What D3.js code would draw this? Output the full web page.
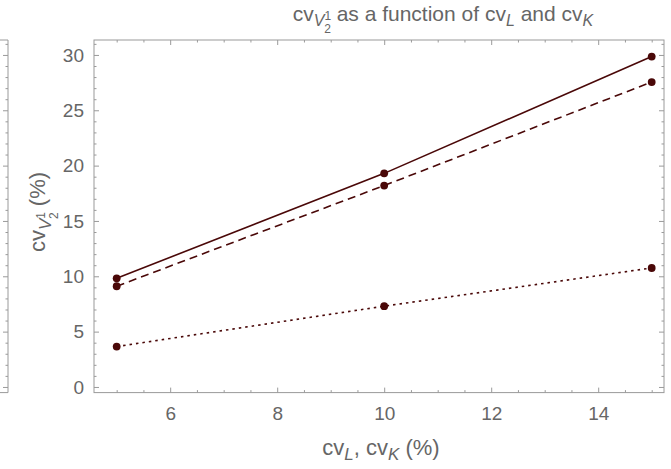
<!DOCTYPE html>
<html>
<head>
<meta charset="utf-8">
<script src="https://cdn.jsdelivr.net/npm/d3@7"></script>
<style>
  body { margin: 0; background: #fff; }
  text { font-family: "Liberation Sans", Arial, sans-serif; fill: #666; }
</style>
</head>
<body>
<svg id="chart" width="671" height="469"></svg>
<script>
// data
var cvLK = [5, 10, 15];
var solidVals = [9.82, 19.3, 29.85];
var dashedVals = [9.1, 18.2, 27.55];
var dottedVals = [3.65, 7.3, 10.75];
var xMajor = [6, 8, 10, 12, 14];
var yMajor = [0, 5, 10, 15, 20, 25, 30];

var plotLeft = 94, plotRight = 664, plotTop = 40, plotBottom = 392.6;
var lineColor = '#4a0808';
var frameColor = '#9a9a9a';

var svg = d3.select('#chart');

var x = d3.scaleLinear().domain([4.576, 15.23]).range([plotLeft, plotRight]);
var y = d3.scaleLinear().domain([-0.51, 31.35]).range([plotBottom, plotTop]);

var xMinor = d3.range(5, 15.01, 0.5).filter(function(d){ return xMajor.indexOf(d) < 0; });
var yMinor = d3.range(0, 31.01, 1).filter(function(d){ return yMajor.indexOf(d) < 0; });

function styleAxis(g){
    g.select('.domain').remove();
    g.selectAll('line').attr('stroke', frameColor).attr('stroke-width', 1);
    g.selectAll('text').attr('fill', '#666').style('font-size', '19px')
     .style('font-family', '"Liberation Sans", Arial, sans-serif');
}

// major ticks (with or without labels) and minor ticks along one side
function frameSide(axisFn, pos, major, minor, labels, pad){
    svg.append('g').attr('transform', pos)
       .call(axisFn.tickValues(major).tickSizeInner(-5).tickSizeOuter(0)
                   .tickPadding(pad || 3).tickFormat(labels ? d3.format('d') : ''))
       .call(styleAxis);
    svg.append('g').attr('transform', pos)
       .call(axisFn.tickValues(minor).tickSizeInner(-2.5).tickSizeOuter(0).tickFormat(''))
       .call(styleAxis);
}

frameSide(d3.axisBottom(x), 'translate(0,' + plotBottom + ')', xMajor, xMinor, true, 14);
frameSide(d3.axisTop(x), 'translate(0,' + plotTop + ')', xMajor, xMinor, false);
frameSide(d3.axisLeft(y), 'translate(' + plotLeft + ',0)', yMajor, yMinor, true, 10);
frameSide(d3.axisRight(y), 'translate(' + plotRight + ',0)', yMajor, yMinor, false);

// frame
svg.append('rect')
   .attr('x', plotLeft).attr('y', plotTop)
   .attr('width', plotRight - plotLeft).attr('height', plotBottom - plotTop)
   .attr('fill', 'none').attr('stroke', frameColor).attr('stroke-width', 1);

// neighbouring plot's right frame, cut off at the left edge
var edgeX = 8;
frameSide(d3.axisRight(y), 'translate(' + edgeX + ',0)', yMajor, yMinor, false);
svg.append('line').attr('x1', edgeX).attr('x2', edgeX).attr('y1', plotTop).attr('y2', plotBottom)
   .attr('stroke', frameColor);
svg.append('line').attr('x1', 0).attr('x2', edgeX).attr('y1', plotBottom).attr('y2', plotBottom)
   .attr('stroke', frameColor);
svg.append('line').attr('x1', 0).attr('x2', edgeX).attr('y1', plotTop).attr('y2', plotTop)
   .attr('stroke', frameColor);

// series
var series = [
    {vals: solidVals, dash: null},
    {vals: dashedVals, dash: '8,5'},
    {vals: dottedVals, dash: '2.5,4'}
];
var line = d3.line().x(function(d){ return x(d[0]); }).y(function(d){ return y(d[1]); });

series.forEach(function(s){
    var pts = cvLK.map(function(c, i){ return [c, s.vals[i]]; });
    svg.append('path').datum(pts)
       .attr('d', line)
       .attr('fill', 'none')
       .attr('stroke', lineColor)
       .attr('stroke-width', 1.6)
       .attr('stroke-dasharray', s.dash);
    svg.selectAll(null).data(pts).enter().append('circle')
       .attr('cx', function(d){ return x(d[0]); })
       .attr('cy', function(d){ return y(d[1]); })
       .attr('r', 3.9)
       .attr('fill', lineColor);
});

// title
var title = svg.append('text').attr('x', 443).attr('y', 21)
   .attr('text-anchor', 'middle').style('font-size', '21px');
title.append('tspan').text('cv');
title.append('tspan').attr('dy', 5).style('font-style', 'italic').style('font-size', '16px').text('V');
title.append('tspan').attr('dy', -6).style('font-size', '12px').text('1');
title.append('tspan').attr('dx', -7).attr('dy', 13).style('font-size', '12px').text('2');
title.append('tspan').attr('dy', -12).text(' as a function of cv');
title.append('tspan').attr('dy', 5).style('font-style', 'italic').style('font-size', '16px').text('L');
title.append('tspan').attr('dy', -5).text(' and cv');
title.append('tspan').attr('dy', 5).style('font-style', 'italic').style('font-size', '16px').text('K');

// x label
var xl = svg.append('text').attr('x', 381).attr('y', 455)
   .attr('text-anchor', 'middle').style('font-size', '22px');
xl.append('tspan').text('cv');
xl.append('tspan').attr('dy', 5).style('font-style', 'italic').style('font-size', '17px').text('L');
xl.append('tspan').attr('dy', -5).text(', cv');
xl.append('tspan').attr('dy', 5).style('font-style', 'italic').style('font-size', '17px').text('K');
xl.append('tspan').attr('dy', -5).text(' (%)');

// y label
var yl = svg.append('text').attr('transform', 'translate(45,212) rotate(-90)')
   .attr('text-anchor', 'middle').style('font-size', '22px');
yl.append('tspan').text('cv');
yl.append('tspan').attr('dy', 6).style('font-style', 'italic').style('font-size', '17px').text('V');
yl.append('tspan').attr('dy', -6).style('font-size', '12px').text('1');
yl.append('tspan').attr('dx', -7).attr('dy', 13).style('font-size', '12px').text('2');
yl.append('tspan').attr('dy', -13).text(' (%)');
</script>
</body>
</html>
